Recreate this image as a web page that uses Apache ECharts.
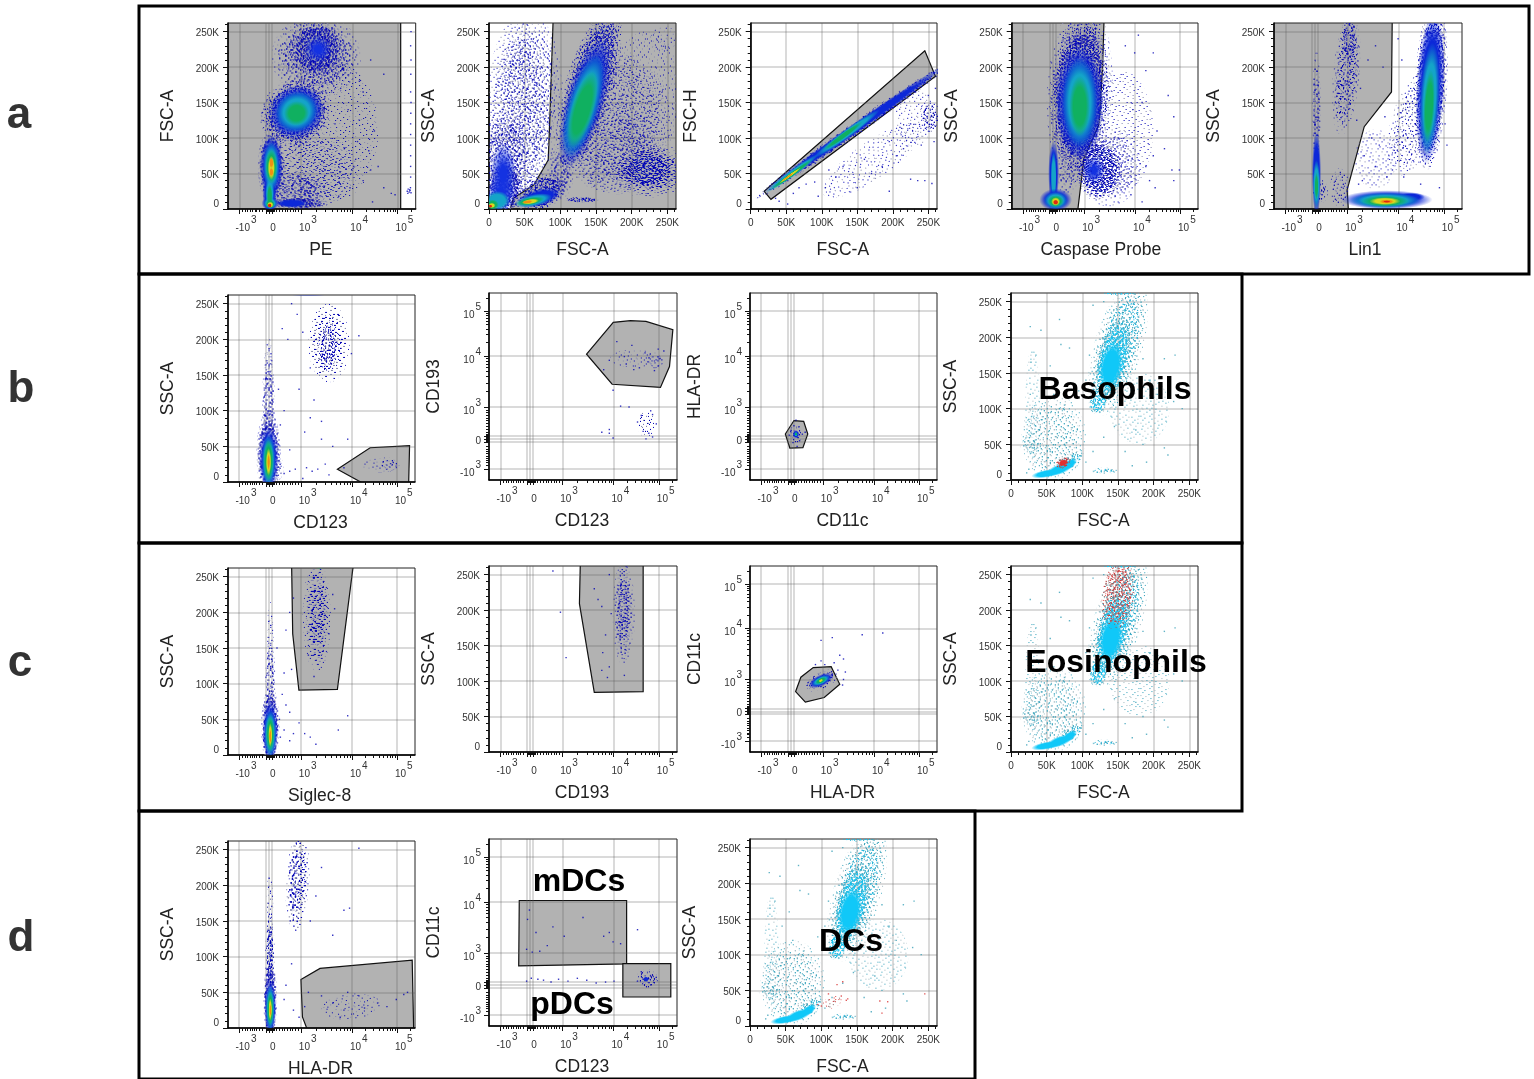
<!DOCTYPE html>
<html><head><meta charset="utf-8">
<style>html,body{margin:0;padding:0;background:#fff}#c{width:1534px;height:1079px}</style>
<script src="https://cdn.jsdelivr.net/npm/echarts@6/dist/echarts.min.js"></script>
</head><body><div id="c"></div>
<script>
// ---- axis ticks -------------------------------------------------------
// Biexponential axes are expressed in display channels (0-1000).
const bioMajor = [60,203,218,235,390,663,904];
const bioLabelValues = [60,218,390,663,904];
const bioLabels = {60:['-10','3'],218:['0'],390:['10','3'],663:['10','4'],904:['10','5']};
const bioMinor = [78,93,103,118,128,143,153,167,182,207,211,215,222,226,230,238,242,246,257,274,289,303,317,331,346,360,374,472,520,554,581,602,621,637,652,736,778,808,831,850,867,881,893,974];
const linMajor = [0,50000,100000,150000,200000,250000];
const linLabels = {0:'0',50000:'50K',100000:'100K',150000:'150K',200000:'200K',250000:'250K'};
const linMinor = [10000,20000,30000,40000,60000,70000,80000,90000,110000,120000,130000,140000,160000,170000,180000,190000,210000,220000,230000,240000,260000];

// ---- gates (x, y) -----------------------------------------------------
const gateA1 = [[-20,-3000],[920,-3000],[920,270000],[-20,270000]];
const gateA2 = [[29000,-3000],[34000,15000],[63000,34000],[83000,69000],[85000,120000],[90000,270000],[270000,270000],[270000,-3000]];
const gateA3 = [[19000,25000],[245000,223000],[260000,187000],[28500,13600]];
const gateA4 = [[-20,-3000],[354,-3000],[388,71000],[470,120000],[488,200000],[496,270000],[-20,270000]];
const gateA5 = [[-20,-3000],[396,-3000],[389,27000],[480,116000],[625,165000],[629,270000],[-20,270000]];
const gateB1 = [[585,18000],[760,48000],[971,51000],[966,-3000],[730,-3000]];
const gateB2 = [[519,673],[661,843],[752,852],[835,848],[978,804],[960,607],[912,495],[655,512]];
const gateB3 = [[235,318],[287,314],[309,246],[283,173],[213,171],[189,246]];
const gateC1 = [[340,270000],[672,270000],[585,92000],[379,91000],[346,170000]];
const gateC2 = [[486,270000],[820,270000],[820,85000],[560,84000],[481,209000]];
const gateC3 = [[244,325],[272,402],[338,454],[434,459],[480,364],[397,293],[296,268]];
const gateD1 = [[390,68000],[492,83500],[985,95000],[993,-3000],[425,-3000],[398,15500]];
const gateD2m = [[161,671],[732,671],[732,332],[158,321]];
const gateD2p = [[712,334],[967,334],[967,155],[712,155]];

// ---- density regions: x, y, x-radius, y-radius, tilt, level
const blobsA1 = [
 [560,110000,240,100000,0,'X'],[450,55000,190,42000,0,'S'],[470,215000,170,42000,0,'M'],
 [370,25000,110,20000,0,'M'],[380,8000,120,6000,0,'D'],[475,225000,110,30000,0,'D'],[480,225000,60,16000,0,'N'],
 [360,135000,150,36000,35,'D'],[365,137000,125,30000,35,'B'],[365,137000,95,23000,35,'T'],[365,135000,55,14000,30,'G'],
 [340,8000,70,5000,0,'B'],
 [231,60000,55,40000,0,'D'],[231,60000,50,36000,0,'B'],[222,22000,32,22000,0,'B'],[225,8000,38,8000,0,'B'],
 [231,60000,36,28000,0,'T'],[222,22000,20,18000,0,'T'],[225,8000,30,6500,0,'T'],
 [231,60000,26,20000,0,'G'],[222,18000,12,14000,0,'G'],[225,7000,20,5000,0,'G'],
 [231,58000,16,14000,0,'Y'],[225,6000,14,3500,0,'Y'],[231,65000,9,6000,0,'O'],[231,52000,9,5000,0,'O'],[222,5000,9,2500,0,'R']
];
const blobsA2 = [
 [180000,120000,60000,80000,0,'S'],[220000,160000,50000,90000,0,'X'],[245000,240000,18000,18000,0,'X'],[170000,85000,50000,50000,0,'S'],
 [40000,130000,35000,110000,0,'S'],[60000,160000,35000,90000,0,'S'],[22000,70000,24000,50000,0,'M'],[100000,50000,13000,26000,0,'M'],
 [225000,55000,40000,28000,0,'M'],[224000,55000,30000,20000,0,'D'],[130000,13000,18000,3000,0,'D'],
 [140000,170000,26000,92000,-16,'D'],[134000,150000,22000,78000,-16,'B'],[132000,145000,18000,62000,-16,'T'],[131000,140000,13000,46000,-16,'G'],
 [22000,30000,20000,28000,0,'D'],[20000,50000,15000,36000,0,'N'],[17000,22000,16000,22000,0,'N'],[12000,12000,14000,11000,0,'T'],[5000,6000,7000,6000,0,'G'],[4000,5000,4000,3000,0,'Y'],[2000,4000,2000,2000,0,'R'],
 [75000,24000,26000,18000,25,'D'],[70000,16000,26000,10000,15,'B'],[62000,12000,22000,7000,12,'T'],[58000,11000,16000,4500,10,'G'],[58000,10500,10000,3000,8,'Y'],[54000,10000,6000,2000,8,'O']
];
const blobsA3 = [
 [172000,69000,85000,26000,35,'X'],[230000,130000,26000,42000,0,'X'],[252000,130000,10000,17000,0,'M'],
 [146000,112000,130000,7000,35,'D'],[146000,113000,132000,6000,35,'B'],
 [135000,106000,47000,5000,36,'T'],[58000,50000,38000,4000,36,'T'],
 [130000,103000,28000,3000,36,'G'],[58000,49000,30000,2500,36,'G'],[55000,47000,16000,1500,36,'Y'],[52000,45000,9000,1000,36,'O']
];
const blobsA4 = [
 [590,110000,170,85000,0,'X'],[520,60000,140,45000,0,'S'],[300,60000,50,34000,0,'S'],
 [470,55000,95,32000,0,'D'],[440,55000,50,16000,0,'N'],
 [365,165000,125,92000,-3,'M'],[365,160000,120,85000,-3,'D'],[365,150000,105,66000,0,'B'],[365,150000,78,52000,0,'T'],[365,145000,45,35000,0,'G'],
 [225,50000,24,38000,0,'B'],[225,45000,13,30000,0,'T'],
 [236,13000,72,13000,0,'B'],[236,12000,52,10000,0,'T'],[236,11000,35,7000,0,'G'],[236,10500,20,5000,0,'Y'],[236,9500,12,3000,0,'R']
];
const blobsA5 = [
 [540,70000,110,42000,0,'X'],[350,30000,42,22000,0,'S'],[740,120000,95,60000,-15,'S'],
 [385,191000,50,62000,-5,'M'],[400,240000,30,26000,0,'M'],
 [226,140000,16,60000,0,'M'],[245,25000,30,12000,0,'M'],[226,50000,20,50000,0,'B'],[226,35000,16,28000,0,'T'],[226,32000,8,16000,0,'G'],
 [835,175000,66,92000,-3,'D'],[830,170000,60,88000,-3,'B'],[828,155000,42,65000,-3,'T'],[825,145000,24,42000,-3,'G'],
 [730,17000,60,5000,0,'B'],[600,13000,200,11000,0,'B'],[590,12000,155,9000,0,'T'],[590,11000,105,6500,0,'G'],[590,11000,68,4500,0,'Y'],[600,10500,32,2500,0,'O'],[600,10500,16,1400,0,'R']
];
const blobsB1 = [
 [540,195000,110,55000,0,'X'],[535,195000,75,42000,0,'S'],[535,190000,40,25000,0,'M'],[810,23000,100,10000,0,'X'],[860,25000,45,8000,0,'S'],[430,264000,130,2500,0,'B'],[510,263500,60,1500,0,'G'],
 [217,165000,18,30000,0,'S'],[217,110000,25,50000,0,'M'],[260,20000,30,15000,0,'S'],
 [217,40000,50,46000,0,'D'],[217,33000,42,36000,0,'B'],[217,30000,30,30000,0,'T'],[217,30000,22,24000,0,'G'],[217,28000,12,16000,0,'Y'],[217,28000,6,9000,0,'O']
];
const blobsB2 = [[770,650,125,48,0,'X'],[880,640,40,35,0,'S'],[835,300,38,55,0,'S']];
const blobsB3 = [[246,245,24,36,0,'M'],[246,245,14,18,0,'B'],[246,245,8,10,0,'T'],[246,245,5,6,0,'G']];
const blobsC1 = [
 [475,195000,60,62000,0,'S'],[480,195000,36,50000,0,'M'],[490,263000,30,1500,0,'G'],
 [226,160000,14,44000,0,'S'],[226,100000,20,45000,0,'M'],
 [226,40000,38,42000,0,'D'],[226,33000,34,34000,0,'B'],[226,30000,26,27000,0,'T'],[226,30000,18,21000,0,'G'],[226,28000,9,14000,0,'Y'],[226,26000,5,8000,0,'O']
];
const blobsC2 = [[716,195000,48,58000,0,'S'],[716,200000,26,50000,0,'M']];
const blobsC3 = [[379,384,70,34,25,'M'],[379,384,58,26,25,'B'],[379,384,42,18,25,'T'],[379,384,26,12,25,'G'],[379,384,10,6,25,'Y']];
const blobsD1 = [
 [660,30000,160,18000,5,'X'],[372,205000,50,55000,-3,'S'],[374,205000,36,50000,-3,'M'],
 [224,170000,14,40000,0,'S'],[224,100000,18,45000,0,'M'],[224,100000,13,40000,0,'D'],
 [226,40000,28,42000,0,'D'],[226,28000,26,32000,0,'B'],[226,28000,20,26000,0,'T'],[226,27000,14,20000,0,'G'],[226,26000,8,13000,0,'Y'],[226,25000,4,7000,0,'O']
];
const blobsD2 = [[840,250,42,38,0,'M'],[835,250,12,12,0,'B']];
const blobsBack = [
 [60000,60000,36000,48000,0,'cS'],[30000,100000,10000,85000,0,'cX'],[27000,50000,12000,10000,0,'cS'],[180000,100000,42000,50000,0,'cX'],
 [150000,185000,24000,70000,-16,'cM'],[130000,13000,14000,3000,0,'cM'],[150000,262000,18000,2000,0,'cD'],
 [143000,170000,17000,46000,-14,'cD'],[122000,112000,10000,15000,-10,'cD'],[85000,27000,14000,8000,35,'cM'],
 [140000,160000,13000,28000,-10,'C'],[50000,9000,18000,4500,10,'C'],[68000,15000,16000,6000,20,'C'],[82000,22000,10000,5000,35,'C']
];
const redB4 = [[73000,24000,9000,6000,20,'rD'],[73000,24000,6000,4000,20,'Rd']];
const redC4 = [[150000,220000,18000,38000,-8,'rM'],[148000,240000,16000,22000,-5,'rS']];
const redD3 = [[115000,33000,14000,8000,20,'rS']];

// ---- individual sparse events ------------------------------------------
const dotsA1 = [[620,210000],[650,230000],[700,180000],[720,165000],[600,170000],[640,140000],[700,125000],[780,110000],[690,95000],[750,82000],[680,70000],[760,55000],[720,40000],[800,60000],[830,30000],[870,22000],[890,20000],[650,30000],[590,18000],[830,190000],[760,210000],[670,60000],[770,10000],[620,85000],[570,120000],[955,25000],[960,28000],[965,24000],[970,26000],[975,23000],[968,27000],[958,22000],[972,30000],[973,45000],[973,60000],[973,75000],[973,90000],[973,105000],[973,120000],[974,135000],[975,150000],[973,165000],[974,190000],[975,210000],[973,230000],[975,250000]];
const dotsA3 = [[35000,15000],[40000,11000],[52000,7000],[60000,22000],[95000,18000],[105000,30000],[90000,38000],[120000,45000],[150000,30000],[170000,50000],[185000,60000],[195000,25000],[225000,42000],[235000,40000],[245000,40000],[255000,36000],[205000,75000],[215000,85000],[195000,95000],[240000,90000],[258000,95000],[250000,160000],[260000,170000],[225000,120000],[210000,115000],[160000,70000],[130000,60000],[110000,55000],[78000,35000],[68000,30000]];
const dotsA4 = [[720,195000],[760,220000],[840,160000],[870,130000],[780,110000],[820,85000],[760,75000],[740,40000],[770,30000],[860,55000],[900,55000],[870,40000],[680,245000],[660,220000],[610,230000],[700,150000],[650,140000],[720,60000],[700,10000],[640,20000]];
const dotsA5 = [[480,75000],[520,100000],[560,90000],[590,130000],[540,60000],[600,45000],[630,55000],[660,95000],[690,45000],[720,80000],[700,140000],[680,210000],[660,240000],[780,35000],[880,30000],[910,120000],[920,90000],[440,125000],[460,170000],[500,210000],[540,230000],[580,200000],[470,40000],[450,35000]];
const dotsB1 = [[340,250000],[370,235000],[290,215000],[320,200000],[400,210000],[440,160000],[380,130000],[460,115000],[500,85000],[440,90000],[410,70000],[500,60000],[560,50000],[640,60000],[700,205000],[420,20000],[450,15000],[480,18000],[520,25000],[540,10000],[300,12000],[330,15000],[360,18000],[400,5000],[620,20000],[280,80000],[300,100000],[330,45000],[270,130000],[660,180000]];
const dotsB2 = [[610,590],[640,640],[680,740],[720,660],[760,720],[800,600],[830,680],[900,700],[660,480],[745,390],[700,395],[600,255],[640,250],[660,225],[640,270],[790,310],[820,260],[850,250],[870,350],[890,300],[810,345],[860,370],[870,230],[835,220],[730,620],[770,590],[880,585],[910,650],[930,690],[900,610]];
const dotsB3 = [[246,320],[235,290],[262,285],[220,265],[280,245],[295,255],[265,210],[230,200],[252,180],[210,240]];
const dotsC1 = [[262,150000],[310,175000],[350,220000],[330,200000],[300,115000],[340,120000],[290,85000],[310,70000],[330,60000],[380,45000],[410,30000],[440,25000],[470,15000],[640,55000],[590,35000],[460,110000],[430,140000],[540,170000],[560,225000],[570,205000],[350,30000],[330,20000],[300,35000],[280,25000],[275,50000]];
const dotsC2 = [[340,255000],[380,197000],[410,133000],[560,230000],[580,215000],[600,205000],[605,140000],[600,115000],[620,165000],[630,105000],[650,195000],[640,120000],[720,108000],[710,240000],[640,250000]];
const dotsC3 = [[380,600],[440,615],[600,630],[710,640],[380,490],[400,470],[450,480],[480,520],[500,500],[510,430],[500,390],[495,360],[470,440],[440,420],[350,470]];
const dotsD1 = [[220,210000],[330,220000],[440,150000],[470,185000],[500,225000],[620,165000],[650,168000],[700,252000],[560,130000],[310,60000],[340,90000],[300,40000],[350,25000],[380,15000],[410,30000],[430,50000],[500,45000],[560,35000],[600,15000],[640,50000],[700,45000],[730,28000],[800,35000],[850,30000],[940,47000],[960,50000],[900,40000],[620,25000]];
const dotsD2 = [[205,570],[215,620],[250,500],[270,400],[310,430],[340,530],[400,480],[500,580],[610,480],[640,500],[660,450],[700,440],[200,410],[230,395],[790,515],[200,240],[225,255],[260,250],[290,245],[330,235],[370,250],[420,240],[470,255],[520,245],[570,230],[620,235],[665,240],[820,250],[870,270],[790,240],[860,220],[810,290],[890,260]];
const dotsBack = [[25000,85000],[27000,120000],[28000,165000],[27000,215000],[35000,175000],[42000,210000],[68000,225000],[70000,190000],[82000,185000],[55000,160000],[45000,140000],[60000,120000],[75000,105000],[95000,125000],[105000,140000],[110000,175000],[115000,245000],[130000,250000],[165000,245000],[175000,210000],[185000,170000],[195000,140000],[205000,120000],[215000,170000],[230000,175000],[175000,70000],[185000,50000],[215000,45000],[220000,35000],[190000,25000],[170000,20000],[160000,40000],[240000,100000],[228000,110000],[145000,75000],[130000,60000],[115000,40000],[105000,25000],[25000,15000],[22000,10000],[30000,45000],[40000,70000],[55000,40000],[75000,50000]];
const dotsRedD3 = [[122000,58000],[130000,62000],[128000,42000],[137000,38000],[110000,45000],[100000,28000],[95000,30000],[182000,35000],[185000,18000],[193000,34000],[245000,45000],[135000,36000]];

// ---- panels ------------------------------------------------------------
const panels = [
 {l:228,r:415.7,t:23,b:209,x:'bio',y:'lin',xn:'PE',yn:'FSC-A',xs:2,gates:[gateA1],blobs:blobsA1,dots:dotsA1},
 {l:489,r:676,t:23,b:209,x:'lin',y:'lin',xn:'FSC-A',yn:'SSC-A',xs:0,gates:[gateA2],blobs:blobsA2,dots:[]},
 {l:750.7,r:937,t:23,b:209,x:'lin',y:'lin',xn:'FSC-A',yn:'FSC-H',xs:2,gates:[gateA3],blobs:blobsA3,dots:dotsA3},
 {l:1011.7,r:1198,t:23,b:209,x:'bio',y:'lin',xn:'Caspase Probe',yn:'SSC-A',xs:8,gates:[gateA4],blobs:blobsA4,dots:dotsA4},
 {l:1274,r:1462,t:23,b:209,x:'bio',y:'lin',xn:'Lin1',yn:'SSC-A',xs:6,gates:[gateA5],blobs:blobsA5,dots:dotsA5},
 {l:228,r:415,t:295,b:482,x:'bio',y:'lin',xn:'CD123',yn:'SSC-A',xs:2,gates:[gateB1],blobs:blobsB1,dots:dotsB1},
 {l:489,r:677,t:293,b:480,x:'bio',y:'bio',xn:'CD123',yn:'CD193',xs:2,gates:[gateB2],blobs:blobsB2,dots:dotsB2},
 {l:750,r:937,t:293,b:480,x:'bio',y:'bio',xn:'CD11c',yn:'HLA-DR',xs:2,gates:[gateB3],blobs:blobsB3,dots:dotsB3},
 {l:1011,r:1198,t:293,b:480,x:'lin',y:'lin',xn:'FSC-A',yn:'SSC-A',xs:2,gates:[],blobs:blobsBack.concat(redB4),dots:dotsBack,dotColor:'#3aa0b8'},
 {l:228,r:415,t:568,b:755,x:'bio',y:'lin',xn:'Siglec-8',yn:'SSC-A',xs:4,gates:[gateC1],blobs:blobsC1,dots:dotsC1},
 {l:489,r:677,t:566,b:752,x:'bio',y:'lin',xn:'CD193',yn:'SSC-A',xs:2,gates:[gateC2],blobs:blobsC2,dots:dotsC2},
 {l:750,r:937,t:566,b:752,x:'bio',y:'bio',xn:'HLA-DR',yn:'CD11c',xs:2,gates:[gateC3],blobs:blobsC3,dots:dotsC3},
 {l:1011,r:1198,t:566,b:752,x:'lin',y:'lin',xn:'FSC-A',yn:'SSC-A',xs:2,gates:[],blobs:blobsBack.concat(redC4),dots:dotsBack,dotColor:'#3aa0b8'},
 {l:228,r:415,t:841,b:1028,x:'bio',y:'lin',xn:'HLA-DR',yn:'SSC-A',xs:2,gates:[gateD1],blobs:blobsD1,dots:dotsD1},
 {l:489,r:677,t:839,b:1026,x:'bio',y:'bio',xn:'CD123',yn:'CD11c',xs:2,gates:[gateD2m,gateD2p],blobs:blobsD2,dots:dotsD2},
 {l:750,r:937,t:839,b:1026,x:'lin',y:'lin',xn:'FSC-A',yn:'SSC-A',xs:2,gates:[],blobs:blobsBack.concat(redD3),dots:dotsBack.concat(dotsRedD3),dotColor:'#3aa0b8',redFrom:dotsBack.length}
];

// ---- styling -----------------------------------------------------------
const FONT = 'Liberation Sans';
const speckTile = [
"...#............#...............",
"..........#................#....",
"#...................#...........",
".......#.......#................",
"..............................#.",
"....#.......#.........#.........",
"...................#............",
".#........#..................#..",
"..........................#.....",
".....#.........#................",
"............#.........#.........",
"...#...........................#",
"..................#.......#.....",
".........#.................#....",
".#.............#................",
"......#...............#.........",
"...................#.........#..",
"...#.......#....................",
"..........................#.....",
"........#.........#.............",
"..#..........#..................",
".......................#.....#..",
".....#..........#...............",
"............#...................",
"...........................#....",
"#.......#...........#...........",
"...............#................",
"...#.....................#......",
"...........#..................#.",
"......#..........#..............",
".....................#.....#....",
"..#........#...................."];
// texture only: each quadrant of a 64px tile layers the speckle with different offsets
const tileShifts=[[0,0,0],[11,5,1],[5,19,0],[23,13,1],[17,27,0],[29,9,1],[7,23,0],[13,17,1]];
function tile(color,color2,n){
  const cv=document.createElement('canvas');cv.width=cv.height=64;
  const g=cv.getContext('2d');
  [[0,0,0],[32,0,3],[0,32,5],[32,32,6]].forEach(q=>{
    for(let m=0;m<n;m++){
      const t=tileShifts[(m+q[2])%8];
      speckTile.forEach((row,y)=>{for(let x=0;x<32;x++){ if(row[x]==='#'){
        const a=t[2]?y:x,b=t[2]?x:y;
        g.fillStyle=((x+y+m)%3===0)?color2:color;
        g.fillRect(q[0]+(a+t[0])%32,q[1]+(b+t[1])%32,1,1);
      }}});
    }
  });
  return {image:cv,repeat:'repeat'};
}
const soft=(rgb)=>({rgb});
const NAVY='#0000b4',NAVY2='#8486b0',TEAL='#2f9fb8',TEAL2='#a0b8c0',RED='#d83030',RED2='#8a6a6a';
const levels={
 X:{fill:tile(NAVY,NAVY2,1)},S:{fill:tile(NAVY,NAVY2,2)},M:{fill:tile(NAVY,NAVY2,4)},D:{fill:tile(NAVY,'#2030c0',8)},
 N:soft('20,50,225'),B:soft('12,40,216'),T:soft('20,164,200'),G:soft('16,176,96'),Y:soft('216,216,32'),O:soft('240,144,16'),R:soft('224,40,16'),
 cX:{fill:tile(TEAL,TEAL2,1)},cS:{fill:tile(TEAL,TEAL2,2)},cM:{fill:tile('#20b8e0',TEAL,4)},cD:{fill:tile('#10c8f8','#20b8e0',8)},
 C:soft('16,200,248'),
 rS:{fill:tile(RED,RED2,2)},rM:{fill:tile(RED,RED2,4)},rD:{fill:tile(RED,RED2,8)},Rd:soft('224,48,48')
};
const rims={D:[['S',1.3],['M',1.15]],M:[['X',1.4],['S',1.2]],S:[['X',1.25]],
 cD:[['cS',1.3],['cM',1.15]],cM:[['cX',1.4],['cS',1.2]],cS:[['cX',1.25]],
 rD:[['rS',1.3],['rM',1.15]],rM:[['rS',1.25]]};

function softFill(rgb,edge){
  return new echarts.graphic.RadialGradient(0.5,0.5,0.5,[
    {offset:0,color:'rgba('+rgb+',1)'},{offset:edge,color:'rgba('+rgb+',1)'},{offset:1,color:'rgba('+rgb+',0)'}]);
}
function blobShape(r,c,s){
  const lv=levels[r[5]], rot=r[4]*Math.PI/180;
  if(lv.rgb){
    const k=1.22/50;
    return [{type:'circle',x:c[0],y:c[1],rotation:rot,scaleX:s[0]*k,scaleY:s[1]*k,shape:{cx:0,cy:0,r:50},style:{fill:softFill(lv.rgb,r[5]==='N'?0.25:0.62)},silent:true}];
  }
  const out=(rims[r[5]]||[]).map(m=>({type:'ellipse',x:c[0],y:c[1],rotation:rot,shape:{cx:0,cy:0,rx:s[0]*m[1],ry:s[1]*m[1]},style:{fill:levels[m[0]].fill},silent:true}));
  out.push({type:'ellipse',x:c[0],y:c[1],rotation:rot,shape:{cx:0,cy:0,rx:s[0],ry:s[1]},style:{fill:lv.fill},silent:true});
  return out;
}

function axisOpts(kind,isX,name,gap,shift){
  const ticksMajor=kind==='lin'?linMajor:bioMajor;
  const labelVals=kind==='lin'?linMajor:bioLabelValues;
  const bp=isX?13.5:0;
  return {
    type:'value',position:isX?'bottom':'left',min:0,max:kind==='lin'?262144:1000,
    name:name,nameLocation:'middle',nameGap:gap,
    nameTextStyle:{fontFamily:FONT,fontSize:17.5,color:'#222',padding:isX?[0,shift||0,0,0]:0},
    axisLine:{show:true,onZero:false,lineStyle:{color:'#000',width:1.5}},
    axisTick:{show:true,length:5,lineStyle:{color:'#111',width:1},customValues:ticksMajor},
    axisLabel:{show:true,customValues:labelVals,margin:kind==='lin'?(isX?9:9):(isX?6:8),
      verticalAlignMinLabel:(!isX&&kind==='lin')?'bottom':undefined,
      padding:(!isX&&kind==='lin')?[4,0,0,0]:0,
      fontFamily:FONT,fontSize:10,color:'#333',
      formatter:(v)=>{
        if(kind==='lin')return linLabels[v];
        const t=bioLabels[v]; if(!t)return '';
        return t[1]?'{b|'+t[0]+'}{s|'+t[1]+'}':'{z|'+t[0]+'}';
      },
      rich:{b:{fontFamily:FONT,fontSize:10,color:'#333',padding:[8,0,0,bp]},
            s:{fontFamily:FONT,fontSize:10,color:'#333',padding:[0,0,8,1]},
            z:{fontFamily:FONT,fontSize:10,color:'#333',padding:isX?[8,0,0,8]:[4,0,0,0]}}},
    splitLine:{show:true,lineStyle:{color:'rgba(90,90,90,0.3)',width:1.5}}
  };
}
function minorOpts(kind,isX){
  return {type:'value',position:isX?'bottom':'left',min:0,max:kind==='lin'?262144:1000,
    axisLine:{show:false,onZero:false},axisLabel:{show:false},splitLine:{show:false},
    axisTick:{show:true,length:3,lineStyle:{color:'#111',width:1},customValues:kind==='lin'?linMinor:bioMinor}};
}

const grid=[],xAxis=[],yAxis=[],series=[];
panels.forEach((p,i)=>{
  grid.push({left:p.l,top:p.t,width:p.r-p.l,height:p.b-p.t,show:true,backgroundColor:'transparent',borderColor:'#222',borderWidth:1,containLabel:false});
  const xi=xAxis.length,yi=yAxis.length;
  xAxis.push(Object.assign(axisOpts(p.x,true,p.xn,32,p.xs),{gridIndex:i}));
  xAxis.push(Object.assign(minorOpts(p.x,true),{gridIndex:i}));
  yAxis.push(Object.assign(axisOpts(p.y,false,p.yn,p.y==='lin'?51:46),{gridIndex:i}));
  yAxis.push(Object.assign(minorOpts(p.y,false),{gridIndex:i}));
  p.gates.forEach(gate=>{
    series.push({type:'custom',xAxisIndex:xi,yAxisIndex:yi,z:-1,clip:true,silent:true,animation:false,
      data:[[gate[0][0],gate[0][1]]],encode:{x:0,y:1},
      renderItem:(params,api)=>({type:'polygon',shape:{points:gate.map(v=>api.coord(v))},
        style:{fill:'#b2b2b2',stroke:'#111',lineWidth:1.2},silent:true})});
  });
  series.push({type:'custom',xAxisIndex:xi,yAxisIndex:yi,z:2,clip:true,silent:true,animation:false,
    data:p.blobs.map(r=>[r[0],r[1]]),encode:{x:0,y:1},
    renderItem:(params,api)=>{
      const r=p.blobs[params.dataIndex];
      const c=api.coord([r[0],r[1]]),s=api.size([r[2],r[3]]);
      return {type:'group',silent:true,children:blobShape(r,c,s)};
    }});
  series.push({type:'scatter',xAxisIndex:xi,yAxisIndex:yi,z:3,clip:true,silent:true,animation:false,
    symbol:'rect',symbolSize:1.4,data:p.dots,
    itemStyle:{color:(d)=>(p.redFrom!==undefined&&d.dataIndex>=p.redFrom)?'#d83030':(p.dotColor||NAVY)}});
});

const frames=[[139,6,1390,268],[139,274,1103,269],[139,543,1103,268],[139,811,836,268]];
const letters=[['a',19,116],['b',21,390],['c',20,664],['d',21,939]];
const callouts=[['Basophils',1115,390],['Eosinophils',1116,663],['mDCs',579,882],['pDCs',572,1005],['DCs',851,942]];
const graphic=[];
frames.forEach(f=>graphic.push({type:'rect',z:50,silent:true,shape:{x:f[0],y:f[1],width:f[2],height:f[3]},style:{fill:'none',stroke:'#000',lineWidth:3}}));
letters.forEach(t=>graphic.push({type:'text',z:50,silent:true,x:t[1],y:t[2],style:{text:t[0],fill:'#333',font:'bold 44px "'+FONT+'"',textAlign:'center',textVerticalAlign:'middle'}}));
callouts.forEach(t=>graphic.push({type:'text',z:50,silent:true,x:t[1],y:t[2],style:{text:t[0],fill:'#000',font:'bold 32px "'+FONT+'"',textAlign:'center',textVerticalAlign:'middle'}}));

const chart=echarts.init(document.getElementById('c'),null,{renderer:'canvas'});
chart.setOption({animation:false,backgroundColor:'#fff',textStyle:{fontFamily:FONT},grid,xAxis,yAxis,series,graphic,tooltip:{show:false},legend:{show:false}});
</script></body></html>
